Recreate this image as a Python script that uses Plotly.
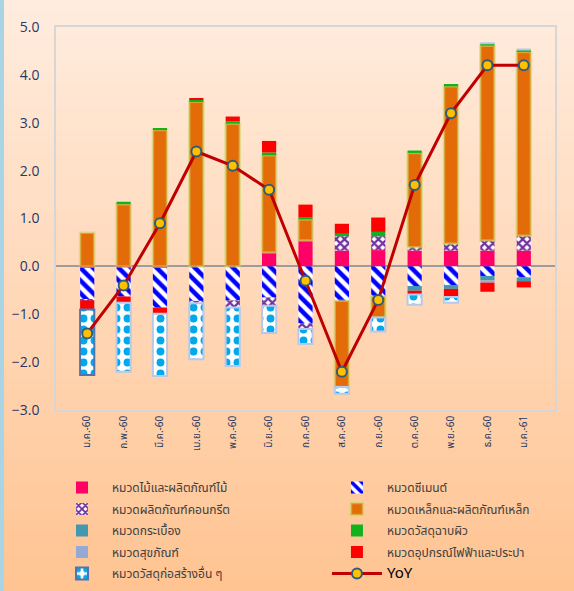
import plotly.graph_objects as go

categories = ["ม.ค.-60", "ก.พ.-60", "มี.ค.-60", "เม.ย.-60", "พ.ค.-60", "มิ.ย.-60", "ก.ค.-60",
              "ส.ค.-60", "ก.ย.-60", "ต.ค.-60", "พ.ย.-60", "ธ.ค.-60", "ม.ค.-61"]

wood = [-0.03, -0.02, -0.03, 0.0, 0.0, 0.29, 0.54, 0.33, 0.34, 0.33, 0.33, 0.33, 0.33]
cement = [-0.66, -0.61, -0.83, -0.72, -0.71, -0.65, -1.19, -0.72, -0.63, -0.41, -0.39, -0.20, -0.23]
concrete = [-0.02, 0.0, 0.0, -0.05, -0.15, -0.17, -0.12, 0.30, 0.29, 0.07, 0.14, 0.21, 0.31]
steel = [0.70, 1.30, 2.85, 3.44, 2.98, 2.03, 0.44, -1.80, -0.44, 1.97, 3.29, 4.07, 3.84]
tile = [0.0, 0.0, 0.0, 0.0, 0.0, 0.0, 0.0, 0.0, 0.0, -0.10, -0.08, -0.09, -0.08]
paint = [0.0, 0.05, 0.04, 0.04, 0.05, 0.06, 0.05, 0.05, 0.09, 0.05, 0.05, 0.05, 0.05]
sanitary = [0.0, 0.0, 0.0, 0.0, 0.0, 0.0, 0.0, 0.0, 0.0, 0.0, 0.0, -0.05, 0.0]
electrical = [-0.19, -0.13, -0.13, 0.03, 0.10, 0.24, 0.26, 0.21, 0.30, -0.08, -0.17, -0.19, -0.13]
other = [-1.37, -1.44, -1.30, -1.17, -1.22, -0.57, -0.31, -0.14, -0.29, -0.21, -0.12, 0.0, 0.0]
yoy = [-1.4, -0.4, 0.9, 2.4, 2.1, 1.6, -0.3, -2.2, -0.7, 1.7, 3.2, 4.2, 4.2]

names = {
    "wood": "หมวดไม้และผลิตภัณฑ์ไม้",
    "cement": "หมวดซีเมนต์",
    "concrete": "หมวดผลิตภัณฑ์คอนกรีต",
    "steel": "หมวดเหล็กและผลิตภัณฑ์เหล็ก",
    "tile": "หมวดกระเบื้อง",
    "paint": "หมวดวัสดุฉาบผิว",
    "sanitary": "หมวดสุขภัณฑ์",
    "electrical": "หมวดอุปกรณ์ไฟฟ้าและประปา",
    "other": "หมวดวัสดุก่อสร้างอื่น ๆ",
}

THAI = "Noto Sans Thai, Noto Sans, Liberation Sans, sans-serif"

fig = go.Figure()

def solid(key, vals, color, legend, line=None):
    fig.add_trace(go.Bar(x=categories, y=vals, name=names[key], legend=legend, legendgroup=key,
                         marker=dict(color=color, line=line or dict(width=0))))

solid("wood", wood, "#FF0066", "legend")
fig.add_trace(go.Bar(x=categories, y=cement, name=names["cement"], legend="legend2", legendgroup="cement",
                     marker=dict(color="#0000FF", line=dict(width=0),
                                 pattern=dict(shape="\\", fgcolor="#0000FF", bgcolor="white",
                                              fgopacity=1, size=9, solidity=0.5))))
fig.add_trace(go.Bar(x=categories, y=concrete, name=names["concrete"], legend="legend", legendgroup="concrete",
                     marker=dict(color="#7030A0", line=dict(width=0),
                                 pattern=dict(shape="x", fgcolor="#7030A0", bgcolor="white",
                                              fgopacity=1, size=6, solidity=0.6))))
solid("steel", steel, "#E36C09", "legend2", dict(width=2.5, color="rgba(200,215,95,0.55)"))
solid("tile", tile, "#4398B0", "legend")
solid("paint", paint, "#12B21E", "legend2")
solid("sanitary", sanitary, "#95A9D6", "legend")
solid("electrical", electrical, "#FF0000", "legend2")
fig.add_trace(go.Bar(x=categories, y=other, name=names["other"], legend="legend", legendgroup="other",
                     marker=dict(color="#00A8EC",
                                 line=dict(width=2, color=["#4F74B0"] + ["#B8C8E8"] * 12),
                                 pattern=dict(shape=".", fgcolor="#00A8EC", bgcolor="white",
                                              fgopacity=1, size=11, solidity=0.4))))
fig.add_trace(go.Scatter(x=categories, y=yoy, name="<span style='font-size:15px;color:#000'>YoY</span>",
                         legend="legend2", legendgroup="yoy", mode="lines+markers",
                         line=dict(color="#C00000", width=3),
                         marker=dict(size=10, color="#FFC000", line=dict(color="#2E5C7A", width=2))))

# background gradient (figure)
shapes = []
n = 50
top = (255, 236, 222)
bot = (255, 196, 146)
pw = 499.0
ph = 383.0
for i in range(n):
    t = i / (n - 1)
    c = tuple(int(round(top[k] + (bot[k] - top[k]) * t)) for k in range(3))
    y0px = 591 * i / n
    y1px = 591 * (i + 1) / n + 1
    shapes.append(dict(type="rect", xref="paper", yref="paper", layer="below",
                       x0=(0 - 56) / pw, x1=(574 - 56) / pw,
                       y0=(410 - y1px) / ph, y1=(410 - y0px) / ph,
                       fillcolor="rgb(%d,%d,%d)" % c, line=dict(width=0)))
# left edge strip
shapes.append(dict(type="rect", xref="paper", yref="paper", layer="below",
                   x0=(0 - 56) / pw, x1=(4 - 56) / pw, y0=(410 - 591) / ph, y1=(410 - 0) / ph,
                   fillcolor="#A9D4E6", line=dict(width=0)))

legend_common = dict(orientation="v", yanchor="top", xanchor="left", traceorder="grouped",
                     tracegroupgap=2.5, yref="container",
                     font=dict(size=12, color="#404040", family=THAI),
                     bgcolor="rgba(0,0,0,0)", itemwidth=50)

fig.update_layout(
    width=574, height=591, autosize=False,
    margin=dict(l=56, r=19, t=27, b=181),
    paper_bgcolor="#FFD9B8", plot_bgcolor="rgba(0,0,0,0)",
    barmode="relative", bargap=0.61,
    shapes=shapes,
    font=dict(family=THAI, color="#404040"),
    showlegend=True,
    legend=dict(x=-0.008, y=(591 - 473) / 591, **legend_common),
    legend2=dict(x=0.543, y=(591 - 473) / 591, **legend_common),
    xaxis=dict(tickangle=-90, tickfont=dict(size=10, color="#1F3864", family=THAI),
               showline=True, linecolor="#D6D6D6", linewidth=1.5, mirror=True,
               showgrid=False, ticks=""),
    yaxis=dict(range=[-3, 5], dtick=1, tickformat=".1f",
               tickfont=dict(size=14, color="#1F3864", family="Open Sans, Liberation Sans, sans-serif"),
               showline=True, linecolor="#D6D6D6", linewidth=1.5, mirror=True,
               showgrid=False, zeroline=True, zerolinecolor="#9C9C9C", zerolinewidth=2,
               ticks="", ticklabelstandoff=12),
)

fig.write_html("out.html", config={"displayModeBar": False},
               post_script="document.body.style.margin='0';document.body.style.padding='0';")
